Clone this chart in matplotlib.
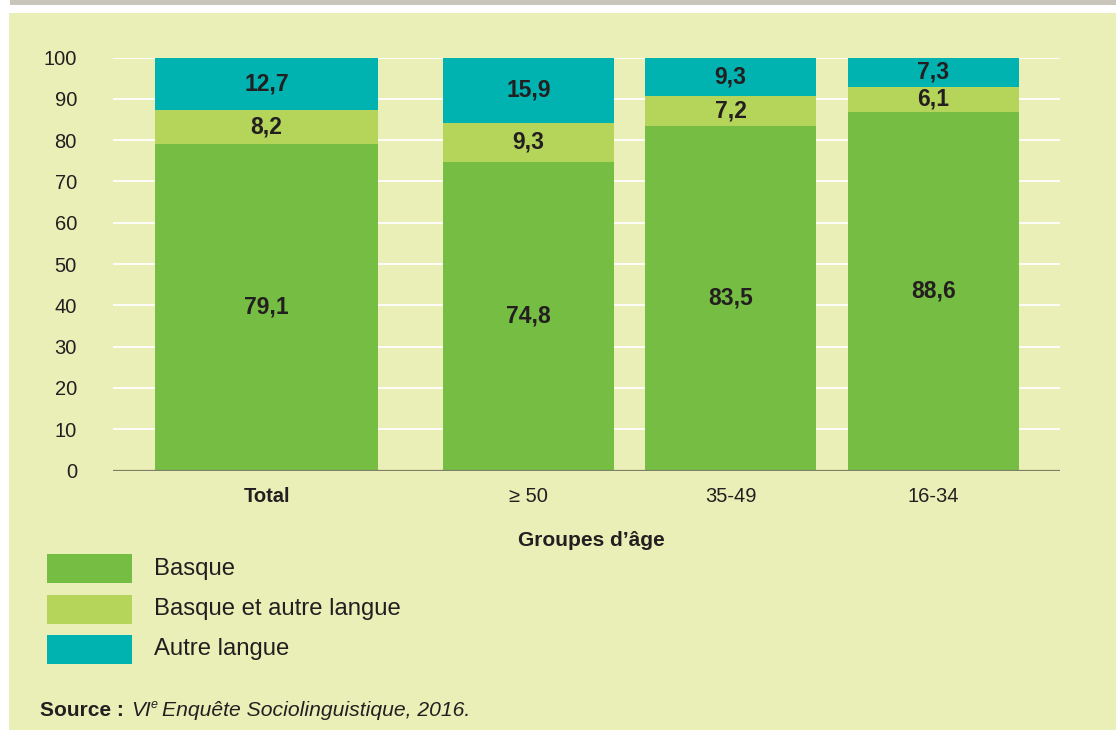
import matplotlib
matplotlib.use("Agg")
import matplotlib.pyplot as plt
from matplotlib.patches import Rectangle
import numpy as np

plt.rcParams['font.family'] = ['Liberation Sans', 'DejaVu Sans']

# ---- data ----
categories = ["Total", "\u2265 50", "35-49", "16-34"]
basque = [79.1, 74.8, 83.5, 88.6]
basque_autre = [8.2, 9.3, 7.2, 6.1]
autre = [12.7, 15.9, 9.3, 7.3]
series_names = ["Basque", "Basque et autre langue", "Autre langue"]
yticks = [0, 10, 20, 30, 40, 50, 60, 70, 80, 90, 100]
xlabel = "Groupes d\u2019\u00e2ge"

# ---- style ----
colors = ["#76bd43", "#b5d55a", "#00b2b0"]
panel_bg = "#eaefb8"
text_c = "#231f20"

W, H = 1116, 730
fig = plt.figure(figsize=(W / 100, H / 100), dpi=100)
fig.patch.set_facecolor("white")

def fx(px):
    return px / W

def fy(py):
    return 1 - py / H

# panel and top strip
fig.patches.append(Rectangle((fx(9), 0), fx(W - 9), fy(13), transform=fig.transFigure,
                             facecolor=panel_bg, edgecolor="none", zorder=-10))
fig.patches.append(Rectangle((fx(10), fy(5)), fx(W - 10), 5 / H, transform=fig.transFigure,
                             facecolor="#c9c5bb", edgecolor="none", zorder=-10))

ax_l, ax_r, ax_top, ax_bot = 113, 1060, 57.5, 470.5
ax = fig.add_axes([fx(ax_l), fy(ax_bot), fx(ax_r - ax_l), (ax_bot - ax_top) / H])
ax.set_facecolor("none")
ax.set_zorder(1)

# layout (pixel-based units within axes)
centers = [153.5, 415.5, 617.5, 820.5]
widths = [223, 171, 171, 171]

b = np.array(basque, dtype=float)
m = np.array(basque_autre, dtype=float)
a = np.array(autre, dtype=float)
tot = b + m + a
bh = b / tot * 100
mh = m / tot * 100
ah = a / tot * 100

ax.bar(centers, bh, width=widths, color=colors[0], zorder=2, label=series_names[0])
ax.bar(centers, mh, width=widths, bottom=bh, color=colors[1], zorder=2, label=series_names[1])
ax.bar(centers, ah, width=widths, bottom=bh + mh, color=colors[2], zorder=2, label=series_names[2])

def fmt(v):
    return f"{v:.1f}".replace(".", ",")

for i in range(len(categories)):
    ax.text(centers[i], bh[i] / 2, fmt(basque[i]), ha="center", va="center",
            fontsize=16.5, fontweight="bold", color=text_c, zorder=3)
    ax.text(centers[i], bh[i] + mh[i] / 2, fmt(basque_autre[i]), ha="center", va="center",
            fontsize=16.5, fontweight="bold", color=text_c, zorder=3)
    ax.text(centers[i], bh[i] + mh[i] + ah[i] / 2, fmt(autre[i]), ha="center", va="center",
            fontsize=16.5, fontweight="bold", color=text_c, zorder=3)

ax.set_xlim(0, ax_r - ax_l)
ax.set_ylim(0, 100)
for y in yticks[1:]:
    ax.axhline(y, color="white", lw=1.3, zorder=1)
ax.axhline(0, color="#7f7f66", lw=1.6, zorder=4)

for s in ax.spines.values():
    s.set_visible(False)
ax.set_yticks(yticks)
ax.set_yticklabels([str(v) for v in yticks], fontsize=14.5, color=text_c)
ax.tick_params(axis="y", length=0, pad=26)
ax.set_xticks(centers)
ax.set_xticklabels(categories, fontsize=14.5, color=text_c)
ax.get_xticklabels()[0].set_fontweight("bold")
ax.tick_params(axis="x", length=0, pad=12)

fig.text(fx(591), fy(541), xlabel, ha="center", va="center", fontsize=15,
         fontweight="bold", color=text_c)

# legend (manual)
leg_y = [568.5, 609, 649.5]
for i, name in enumerate(series_names):
    fig.patches.append(Rectangle((fx(47), fy(leg_y[i] + 14.5)), fx(85), 29 / H,
                                 transform=fig.transFigure, facecolor=colors[i],
                                 edgecolor="none", zorder=2))
    fig.text(fx(154), fy(leg_y[i]), name, ha="left", va="center", fontsize=17.2,
             color=text_c)

# source line
fig.canvas.draw()
r = fig.canvas.get_renderer()
t1 = fig.text(fx(40), fy(710), "Source :", ha="left", va="center", fontsize=15,
              fontweight="bold", color=text_c)
e1 = t1.get_window_extent(r)
t2 = fig.text((e1.x1 + 7) / W, fy(710), "VI", ha="left", va="center", fontsize=15,
              style="italic", color=text_c)
e2 = t2.get_window_extent(r)
t3 = fig.text((e2.x1 + 0.5) / W, fy(705), "e", ha="left", va="center", fontsize=9,
              style="italic", color=text_c)
e3 = t3.get_window_extent(r)
fig.text((e3.x1 + 4) / W, fy(710), "Enqu\u00eate Sociolinguistique, 2016.", ha="left",
         va="center", fontsize=15.2, style="italic", color=text_c)

fig.savefig("out.png", dpi=100, facecolor=fig.get_facecolor())
